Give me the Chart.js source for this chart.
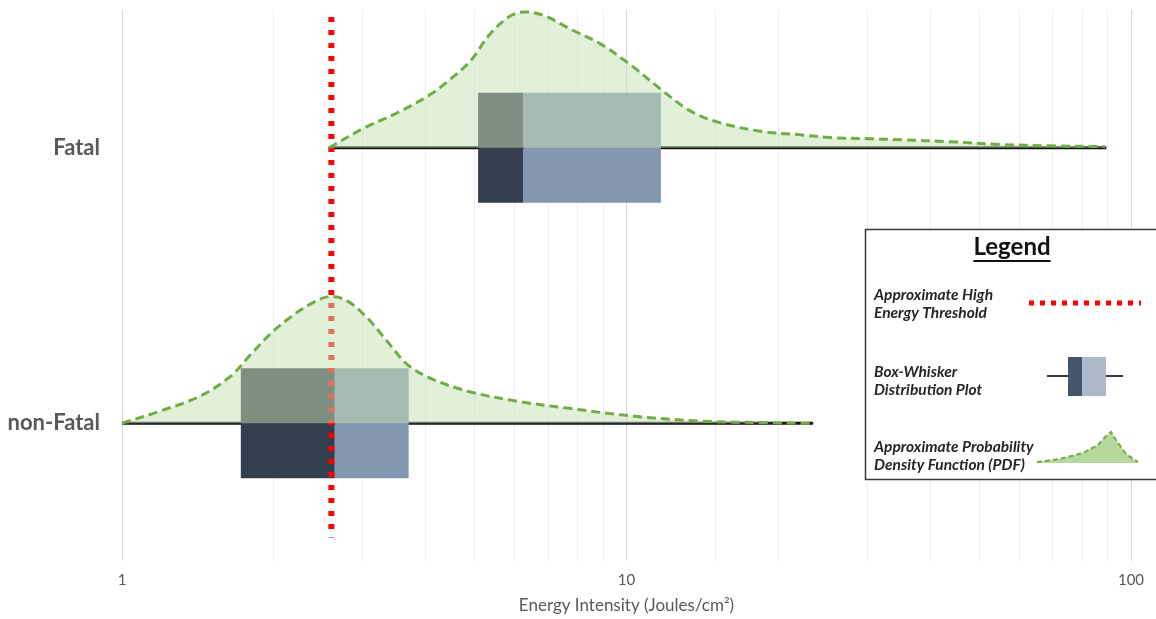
<!DOCTYPE html>
<html>
<head>
<meta charset="utf-8">
<title>Energy Intensity: Fatal vs non-Fatal</title>
<script src="https://cdn.jsdelivr.net/npm/chart.js@4.4.1/dist/chart.umd.min.js"></script>
<style>
  html, body { margin: 0; padding: 0; background: #ffffff; }
  #wrap { position: relative; width: 1156px; height: 619px; }
</style>
</head>
<body>
<div id="wrap"><canvas id="chart" width="1156" height="619"></canvas></div>
<script>
// Outcome categories, placed at y = 1 and y = 2
const categories = ['non-Fatal', 'Fatal'];

// Box-whisker summary per category (Joules/cm²)
const boxMin    = [1.0, 2.57];
const boxQ1     = [1.72, 5.08];
const boxMedian = [2.64, 6.24];
const boxQ3     = [3.70, 11.7];
const boxMax    = [23.3, 88.8];

// Approximate high energy threshold (Joules/cm²) and its vertical extent
const thresholdValue = 2.6;
const thresholdSpan  = [2.475, 0.585];

// Approximate PDF curves: energy values and curve heights above each baseline
const pdfFatalX = [2.57, 3.03, 3.56, 4.08, 4.47, 4.90, 5.36, 5.88, 6.29, 6.90, 7.73, 8.86, 10.2, 11.7, 13.4, 15.3, 18.4, 22.1, 25.3, 30.4, 34.8, 43.8, 55.0, 69.1, 88.8];
const pdfFatalH = [0, 0.073, 0.132, 0.193, 0.248, 0.314, 0.412, 0.478, 0.493, 0.478, 0.431, 0.378, 0.300, 0.212, 0.133, 0.091, 0.060, 0.047, 0.037, 0.033, 0.029, 0.022, 0.012, 0.007, 0.004];

const pdfNonFatalX = [1.0, 1.19, 1.43, 1.64, 1.79, 1.97, 2.15, 2.39, 2.58, 2.79, 3.06, 3.35, 3.67, 4.08, 4.83, 6.07, 7.62, 10.3, 14.0, 19.0, 23.3];
const pdfNonFatalH = [0, 0.044, 0.099, 0.170, 0.245, 0.325, 0.383, 0.438, 0.460, 0.445, 0.383, 0.299, 0.215, 0.164, 0.117, 0.080, 0.055, 0.026, 0.008, 0.002, 0];

// Labelled x ticks
const xTickLabels = [1, 10, 100];

// ---- styling constants ----
const BOX_HALF = 0.2;
const COLOR_DARK = '#333F4F';
const COLOR_LIGHT = '#8497B0';
const PDF_FILL = 'rgba(197,224,180,0.5)';
const PDF_LINE = '#70AD47';
const LABEL_FONT = 'Lato, "Open Sans", sans-serif';

function rectPoints(x0, x1, base) {
  return [
    { x: x0, y: base - BOX_HALF },
    { x: x0, y: base + BOX_HALF },
    { x: x1, y: base + BOX_HALF },
    { x: x1, y: base - BOX_HALF },
    { x: x0, y: base - BOX_HALF }
  ];
}

const datasets = [];
const pdfSeries = [[pdfNonFatalX, pdfNonFatalH], [pdfFatalX, pdfFatalH]];

categories.forEach((name, i) => {
  const base = i + 1;
  // PDF curve (drawn on top of everything)
  const [px, ph] = pdfSeries[i];
  datasets.push({
    label: name + ' PDF',
    data: px.map((x, k) => ({ x: x, y: base + ph[k] })),
    order: 0,
    borderColor: PDF_LINE,
    borderWidth: 3,
    borderDash: [9, 5],
    backgroundColor: PDF_FILL,
    fill: { value: base },
    tension: 0.35,
    pointRadius: 0
  });
  // Box halves
  datasets.push({
    label: name + ' Q1-median',
    data: rectPoints(boxQ1[i], boxMedian[i], base),
    order: 2,
    borderWidth: 0,
    borderColor: 'rgba(0,0,0,0)',
    backgroundColor: COLOR_DARK,
    fill: 'shape',
    pointRadius: 0,
    tension: 0
  });
  datasets.push({
    label: name + ' median-Q3',
    data: rectPoints(boxMedian[i], boxQ3[i], base),
    order: 2,
    borderWidth: 0,
    borderColor: 'rgba(0,0,0,0)',
    backgroundColor: COLOR_LIGHT,
    fill: 'shape',
    pointRadius: 0,
    tension: 0
  });
  // Whisker
  datasets.push({
    label: name + ' range',
    data: [{ x: boxMin[i], y: base }, { x: boxMax[i], y: base }],
    order: 3,
    borderColor: '#111111',
    borderWidth: 3,
    fill: false,
    pointRadius: [0, 2],
    pointStyle: 'rect',
    pointBackgroundColor: '#222222',
    pointBorderWidth: 0
  });
});

// Threshold line
datasets.push({
  label: 'High energy threshold',
  data: thresholdSpan.map(y => ({ x: thresholdValue, y: y })),
  order: 1,
  borderColor: '#FF0000',
  borderWidth: 6,
  borderDash: [5, 8],
  borderCapStyle: 'butt',
  fill: false,
  pointRadius: 0
});

function isPow10(v) {
  const l = Math.log10(v);
  return Math.abs(l - Math.round(l)) < 1e-9;
}

// Boxed legend at the right
const legendBox = {
  id: 'legendBox',
  afterDraw(chart) {
    const ctx = chart.ctx;
    ctx.save();
    ctx.fillStyle = '#ffffff';
    ctx.fillRect(865, 229, 300, 251);
    ctx.strokeStyle = '#3a3a3a';
    ctx.lineWidth = 1.5;
    ctx.strokeRect(865.5, 229.5, 300, 250);

    // Title
    ctx.fillStyle = '#111111';
    ctx.font = 'bold 24px ' + LABEL_FONT;
    ctx.textAlign = 'center';
    ctx.textBaseline = 'middle';
    ctx.fillText('Legend', 1012, 247);
    const tw = ctx.measureText('Legend').width;
    ctx.fillRect(1012 - tw / 2, 260, tw, 2);

    // Item texts
    ctx.font = 'italic bold 15.5px ' + LABEL_FONT;
    ctx.textAlign = 'left';
    ctx.fillStyle = '#262626';
    ctx.fillText('Approximate High', 874, 295);
    ctx.fillText('Energy Threshold', 874, 313);
    ctx.fillText('Box-Whisker', 874, 372);
    ctx.fillText('Distribution Plot', 874, 390);
    ctx.fillText('Approximate Probability', 874, 447);
    ctx.fillText('Density Function (PDF)', 874, 465);

    // Threshold sample
    ctx.strokeStyle = '#FF0000';
    ctx.lineWidth = 5;
    ctx.setLineDash([5, 6]);
    ctx.beginPath();
    ctx.moveTo(1029, 303);
    ctx.lineTo(1141, 303);
    ctx.stroke();
    ctx.setLineDash([]);

    // Box-whisker sample
    ctx.strokeStyle = '#3a3a3a';
    ctx.lineWidth = 2;
    ctx.beginPath();
    ctx.moveTo(1047, 376);
    ctx.lineTo(1123, 376);
    ctx.stroke();
    ctx.fillStyle = '#44546A';
    ctx.fillRect(1068, 357, 14, 39);
    ctx.fillStyle = '#ADB9CA';
    ctx.fillRect(1082, 357, 24, 39);

    // PDF sample
    const pts = [[1037, 462], [1060, 459], [1083, 453], [1098, 445], [1106, 436], [1111, 432], [1116, 440], [1126, 454], [1138, 462]];
    ctx.beginPath();
    ctx.moveTo(pts[0][0], pts[0][1]);
    pts.slice(1).forEach(p => ctx.lineTo(p[0], p[1]));
    ctx.lineTo(1138, 463);
    ctx.lineTo(1037, 463);
    ctx.closePath();
    ctx.fillStyle = '#B5D99C';
    ctx.fill();
    ctx.beginPath();
    ctx.moveTo(pts[0][0], pts[0][1]);
    pts.slice(1).forEach(p => ctx.lineTo(p[0], p[1]));
    ctx.strokeStyle = PDF_LINE;
    ctx.lineWidth = 2;
    ctx.setLineDash([5, 3]);
    ctx.stroke();
    ctx.restore();
  }
};

new Chart(document.getElementById('chart'), {
  type: 'line',
  data: { datasets: datasets },
  options: {
    responsive: false,
    animation: false,
    events: [],
    layout: { padding: { top: 10, right: 25, left: 0, bottom: 0 } },
    plugins: {
      legend: { display: false },
      tooltip: { enabled: false },
      filler: { propagate: false }
    },
    scales: {
      x: {
        type: 'logarithmic',
        min: 1,
        max: 100,
        border: { display: false },
        grid: {
          drawTicks: false,
          lineWidth: 1,
          color: c => (c.tick && isPow10(c.tick.value)) ? '#d9d9d9' : '#eeeeee'
        },
        ticks: {
          autoSkip: false,
          maxRotation: 0,
          padding: 10,
          color: '#595959',
          font: { family: LABEL_FONT, size: 15 },
          callback: v => xTickLabels.includes(v) ? String(v) : ''
        },
        title: {
          display: true,
          text: 'Energy Intensity (Joules/cm²)',
          color: '#595959',
          font: { family: LABEL_FONT, size: 17 },
          padding: { top: 0, bottom: 3 }
        },
        afterFit: s => { s.height = 58; s.paddingLeft = 0; s.paddingRight = 0; }
      },
      y: {
        type: 'linear',
        min: 0.5,
        max: 2.5,
        border: { display: false },
        grid: { display: false, drawTicks: false },
        afterBuildTicks: s => { s.ticks = categories.map((c, i) => ({ value: i + 1 })); },
        ticks: {
          padding: 22,
          color: '#595959',
          font: { family: LABEL_FONT, size: 22, weight: 'bold' },
          callback: v => categories[Math.round(v) - 1]
        },
        afterFit: s => { s.width = 122; s.paddingTop = 0; s.paddingBottom = 0; }
      }
    }
  },
  plugins: [legendBox]
});
</script>
</body>
</html>
